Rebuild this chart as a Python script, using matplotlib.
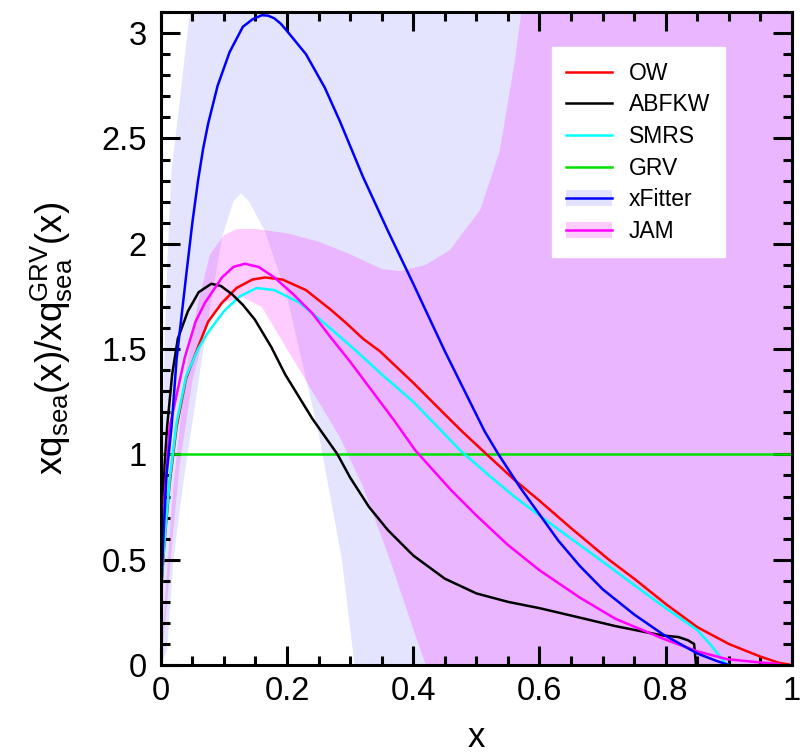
import numpy as np
import matplotlib
matplotlib.use('Agg')
import matplotlib.pyplot as plt
from matplotlib.ticker import MultipleLocator, FuncFormatter
from matplotlib.lines import Line2D
from matplotlib.patches import Patch

plt.rcParams['font.family'] = ['Liberation Sans', 'DejaVu Sans']
plt.rcParams['mathtext.default'] = 'regular'

### donnees
# OW
x_ow = [0, 0.003, 0.006, 0.014, 0.025, 0.04, 0.059, 0.075, 0.097, 0.12, 0.145, 0.165,
        0.193, 0.23, 0.268, 0.295, 0.32, 0.347, 0.4, 0.45, 0.477, 0.52, 0.56, 0.6,
        0.65, 0.71, 0.75, 0.8, 0.85, 0.9, 0.95, 0.98, 1.0]
y_ow = [0.3, 0.46, 0.59, 0.86, 1.13, 1.36, 1.51, 1.63, 1.72, 1.79, 1.83, 1.84,
        1.83, 1.78, 1.69, 1.62, 1.55, 1.49, 1.34, 1.19, 1.11, 0.99, 0.88, 0.78,
        0.65, 0.50, 0.41, 0.29, 0.18, 0.10, 0.04, 0.01, 0.0]

# ABFKW
x_abfkw = [0, 0.003, 0.006, 0.01, 0.018, 0.027, 0.043, 0.06, 0.08, 0.095, 0.113, 0.13,
           0.149, 0.175, 0.197, 0.24, 0.28, 0.3, 0.33, 0.36, 0.4, 0.45, 0.5, 0.55,
           0.6, 0.664, 0.72, 0.77, 0.796, 0.82, 0.835, 0.845, 0.848]
y_abfkw = [0.3, 0.7, 0.95, 1.13, 1.38, 1.55, 1.68, 1.77, 1.81, 1.80, 1.76, 1.71,
           1.64, 1.51, 1.38, 1.17, 1.0, 0.89, 0.75, 0.64, 0.52, 0.41, 0.34, 0.30,
           0.27, 0.225, 0.185, 0.155, 0.14, 0.133, 0.118, 0.1, 0.0]

# SMRS
x_smrs = [0, 0.003, 0.006, 0.014, 0.025, 0.04, 0.059, 0.075, 0.1, 0.125, 0.152, 0.18,
          0.22, 0.268, 0.31, 0.35, 0.4, 0.442, 0.474, 0.52, 0.56, 0.6, 0.65, 0.696,
          0.75, 0.8, 0.85, 0.87, 0.894, 0.9]
y_smrs = [0.3, 0.47, 0.6, 0.88, 1.15, 1.37, 1.5, 1.58, 1.68, 1.75, 1.79, 1.78,
          1.72, 1.60, 1.49, 1.38, 1.25, 1.12, 1.02, 0.9, 0.8, 0.71, 0.60, 0.5,
          0.38, 0.27, 0.166, 0.1, 0.01, 0.0]

# GRV
x_grv = [0, 1]
y_grv = [1, 1]

# xFitter
x_xf = [0, 0.004, 0.009, 0.017, 0.025, 0.041, 0.05, 0.059, 0.067, 0.075, 0.09, 0.109,
        0.13, 0.145, 0.16, 0.17, 0.18, 0.19, 0.2, 0.23, 0.26, 0.284, 0.32, 0.36,
        0.4, 0.45, 0.513, 0.535, 0.57, 0.6, 0.63, 0.664, 0.7, 0.75, 0.796, 0.85,
        0.88, 0.9]
y_xf = [0.3, 0.6, 0.9, 1.13, 1.45, 1.87, 2.1, 2.3, 2.45, 2.57, 2.75, 2.91,
        3.03, 3.065, 3.085, 3.083, 3.07, 3.045, 3.01, 2.9, 2.74, 2.58, 2.32, 2.06,
        1.81, 1.49, 1.11, 1.0, 0.84, 0.715, 0.59, 0.47, 0.36, 0.24, 0.145, 0.055,
        0.02, 0.0]
x_xf_lo = [0, 0.01, 0.02, 0.035, 0.049, 0.07, 0.097, 0.115, 0.127, 0.14, 0.165, 0.2,
           0.25, 0.287, 0.307, 1.0]
y_xf_lo = [0, 0.07, 0.5, 0.85, 1.13, 1.55, 2.03, 2.2, 2.24, 2.2, 2.06, 1.75,
           1.1, 0.5, 0.0, 0.0]
x_xf_hi = [0, 0.002, 0.005, 0.01, 0.017, 0.027, 0.046, 0.08, 1.0]
y_xf_hi = [0.2, 0.8, 1.4, 1.9, 2.35, 2.6, 3.1, 3.6, 3.6]

# JAM
x_jam = [0, 0.003, 0.006, 0.014, 0.022, 0.038, 0.055, 0.07, 0.097, 0.115, 0.133, 0.155,
         0.18, 0.21, 0.24, 0.268, 0.3, 0.34, 0.37, 0.403, 0.43, 0.46, 0.5, 0.55,
         0.6, 0.664, 0.72, 0.796, 0.85, 0.897, 0.95, 0.98]
y_jam = [0.35, 0.6, 0.8, 1.13, 1.24, 1.46, 1.63, 1.72, 1.84, 1.89, 1.905, 1.89,
         1.84, 1.76, 1.67, 1.56, 1.44, 1.28, 1.16, 1.02, 0.93, 0.83, 0.71, 0.57,
         0.45, 0.32, 0.22, 0.125, 0.065, 0.028, 0.012, 0.005]
x_jam_lo = [0, 0.01, 0.02, 0.03, 0.05, 0.073, 0.1, 0.13, 0.16, 0.2, 0.25, 0.284,
            0.32, 0.363, 0.4, 0.42, 1.0]
y_jam_lo = [0, 0.3, 0.65, 0.95, 1.35, 1.62, 1.72, 1.745, 1.7, 1.5, 1.25, 1.08,
            0.85, 0.5, 0.17, 0.0, 0.0]
x_jam_hi = [0, 0.01, 0.02, 0.04, 0.059, 0.078, 0.1, 0.12, 0.15, 0.2, 0.25, 0.3,
            0.35, 0.38, 0.42, 0.458, 0.506, 0.537, 0.561, 0.58, 0.6, 1.0]
y_jam_hi = [0, 0.45, 0.85, 1.4, 1.72, 1.95, 2.04, 2.07, 2.07, 2.05, 2.01, 1.95,
            1.88, 1.87, 1.9, 1.97, 2.16, 2.44, 2.87, 3.3, 3.6, 3.6]

### figure
fig = plt.figure(figsize=(8.04, 7.54), dpi=100)
ax = fig.add_axes([0.2, 0.118, 0.785, 0.866])

def band(xh, yh, xl, yl, **kw):
    px = np.concatenate([xh, xl[::-1]])
    py = np.concatenate([yh, yl[::-1]])
    ax.fill(px, py, lw=0, **kw)

band(np.array(x_xf_hi), np.array(y_xf_hi), np.array(x_xf_lo), np.array(y_xf_lo),
     color='blue', alpha=0.105)
band(np.array(x_jam_hi), np.array(y_jam_hi), np.array(x_jam_lo), np.array(y_jam_lo),
     color='magenta', alpha=0.2)

lw = 1.8
ax.plot(x_grv, y_grv, color='#00e000', lw=lw)
ax.plot(x_ow, y_ow, color='red', lw=lw)
ax.plot(x_smrs, y_smrs, color='cyan', lw=lw)
ax.plot(x_abfkw, y_abfkw, color='black', lw=lw)
ax.plot(x_jam, y_jam, color='magenta', lw=lw)
ax.plot(x_xf, y_xf, color='blue', lw=lw)

ax.set_xlim(0, 1)
ax.set_ylim(0, 3.1)
ax.xaxis.set_major_locator(MultipleLocator(0.2))
ax.xaxis.set_minor_locator(MultipleLocator(0.05))
ax.yaxis.set_major_locator(MultipleLocator(0.5))
ax.yaxis.set_minor_locator(MultipleLocator(0.1))
fmt = FuncFormatter(lambda v, p: '%g' % round(v, 2))
ax.xaxis.set_major_formatter(fmt)
ax.yaxis.set_major_formatter(fmt)
ax.tick_params(which='both', direction='in', top=True, right=True, width=2.2,
               labelsize=23.5, color='black')
ax.tick_params(which='major', length=13.5)
ax.tick_params(which='minor', length=6.5)
ax.tick_params(axis='y', pad=10)
ax.tick_params(axis='x', pad=8)
for s in ax.spines.values():
    s.set_linewidth(2.2)

ax.set_xlabel('x', fontsize=25, labelpad=10)
ax.set_ylabel(r'$\mathregular{xq_{sea}(x)/xq_{sea}^{GRV}(x)}$', fontsize=26.5)
ax.yaxis.set_label_coords(-0.136, 0.5)

handles = [Line2D([], [], color='red', lw=lw),
           Line2D([], [], color='black', lw=lw),
           Line2D([], [], color='cyan', lw=lw),
           Line2D([], [], color='#00e000', lw=lw),
           (Patch(facecolor='#e3e3ff', lw=0), Line2D([], [], color='blue', lw=lw)),
           (Patch(facecolor='#ffccff', lw=0), Line2D([], [], color='magenta', lw=lw))]
labels = ['OW', 'ABFKW', 'SMRS', 'GRV', 'xFitter', 'JAM']
leg = ax.legend(handles, labels, loc='upper left', bbox_to_anchor=(0.62, 0.946),
                fontsize=16.5, frameon=True, fancybox=False, framealpha=1,
                edgecolor='white', borderpad=0.62, labelspacing=0.38,
                handlelength=2.0, handletextpad=0.74, borderaxespad=0)

fig.savefig('out.png', dpi=100)
